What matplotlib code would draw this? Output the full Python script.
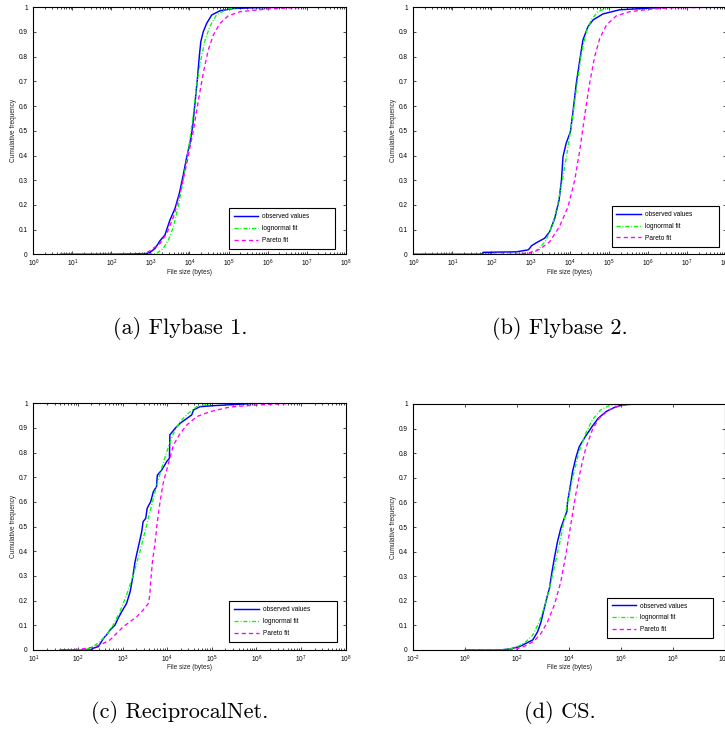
import numpy as np
import matplotlib
matplotlib.use("Agg")
import matplotlib.pyplot as plt
from matplotlib.ticker import LogLocator, FixedLocator, NullLocator, NullFormatter, FixedFormatter

plt.rcParams['font.family'] = ['Liberation Sans', 'DejaVu Sans']
plt.rcParams['mathtext.fontset'] = 'custom'
plt.rcParams['mathtext.rm'] = 'Liberation Sans'
plt.rcParams['mathtext.it'] = 'Liberation Sans:italic'
plt.rcParams['mathtext.bf'] = 'Liberation Sans:bold'
plt.rcParams['lines.scale_dashes'] = False

# ---------------- data (x values are log10 of file size in bytes) ----------------
series_labels = ["observed values", "lognormal fit", "Pareto fit"]
captions = ["(a) Flybase 1.", "(b) Flybase 2.", "(c) ReciprocalNet.", "(d) CS."]
y_ticks = [0, 0.1, 0.2, 0.3, 0.4, 0.5, 0.6, 0.7, 0.8, 0.9, 1]
y_tick_labels = ["0", "0.1", "0.2", "0.3", "0.4", "0.5", "0.6", "0.7", "0.8", "0.9", "1"]

# Panel (a) Flybase 1
a_obs_logx = [0.7, 2.0, 2.9, 2.99, 3.12, 3.245, 3.37, 3.5, 3.63, 3.74, 3.84, 3.93, 4.01, 4.08,
              4.14, 4.2, 4.25, 4.29, 4.35, 4.44, 4.57, 4.78, 5.12, 5.6, 6.4, 7.95]
a_obs_y = [0, 0, 0.003, 0.008, 0.024, 0.055, 0.078, 0.139, 0.186, 0.247, 0.321, 0.395, 0.449, 0.517,
           0.611, 0.706, 0.80, 0.861, 0.90, 0.935, 0.969, 0.986, 0.995, 0.998, 1.0, 1.0]
a_logn_logx = [0.7, 2.9, 3.16, 3.33, 3.46, 3.59, 3.71, 3.84, 3.97, 4.08, 4.18, 4.27, 4.4, 4.52,
               4.69, 4.95, 5.3, 7.95]
a_logn_y = [0, 0, 0.004, 0.024, 0.058, 0.112, 0.193, 0.30, 0.42, 0.544, 0.679, 0.773, 0.868, 0.922,
            0.969, 0.992, 1.0, 1.0]
a_par_logx = [0.7, 2.8, 2.94, 3.07, 3.25, 3.42, 3.59, 3.76, 3.93, 4.1, 4.23, 4.36, 4.48, 4.61,
              4.78, 4.99, 5.29, 5.98, 6.5, 7.0, 7.95]
a_par_y = [0, 0, 0.01, 0.024, 0.045, 0.085, 0.152, 0.247, 0.368, 0.503, 0.625, 0.74, 0.827, 0.888,
           0.935, 0.965, 0.982, 0.993, 0.997, 1.0, 1.0]

# Panel (b) Flybase 2
b_obs_logx = [0, 1.75, 1.79, 2.64, 2.94, 2.98, 3.02, 3.15, 3.36, 3.49, 3.62, 3.73, 3.79, 3.83,
              3.91, 4.02, 4.09, 4.17, 4.26, 4.34, 4.47, 4.6, 4.85, 5.28, 5.96, 6.5, 7.95]
b_obs_y = [0, 0, 0.008, 0.01, 0.018, 0.025, 0.034, 0.047, 0.065, 0.092, 0.146, 0.22, 0.30, 0.395,
           0.449, 0.497, 0.584, 0.692, 0.787, 0.868, 0.922, 0.949, 0.973, 0.99, 0.996, 1.0, 1.0]
b_logn_logx = [0, 2.9, 3.06, 3.23, 3.4, 3.57, 3.7, 3.83, 3.96, 4.09, 4.19, 4.3, 4.43, 4.55,
               4.72, 4.94, 5.1, 7.95]
b_logn_y = [0, 0, 0.004, 0.024, 0.058, 0.125, 0.206, 0.314, 0.436, 0.571, 0.692, 0.814, 0.901, 0.949,
            0.982, 0.997, 1.0, 1.0]
b_par_logx = [0, 2.6, 2.98, 3.23, 3.49, 3.74, 3.96, 4.13, 4.26, 4.38, 4.51, 4.64, 4.77, 4.94,
              5.19, 5.53, 6.04, 6.6, 7.95]
b_par_y = [0, 0, 0.007, 0.02, 0.051, 0.112, 0.193, 0.30, 0.422, 0.557, 0.692, 0.80, 0.874, 0.928,
           0.965, 0.982, 0.992, 0.998, 1.0]

# Panel (c) ReciprocalNet
c_obs_logx = [1.6, 2.3, 2.34, 2.46, 2.57, 2.64, 2.72, 2.83, 2.9, 2.98, 3.09, 3.17, 3.23, 3.28,
              3.33, 3.38, 3.43, 3.46, 3.52, 3.55, 3.63, 3.69, 3.76, 3.78, 3.88, 3.99, 4.05, 4.06,
              4.18, 4.29, 4.39, 4.55, 4.59, 4.73, 5.0, 5.5, 6.0, 7.42]
c_obs_y = [0, 0, 0.007, 0.014, 0.047, 0.061, 0.081, 0.101, 0.128, 0.155, 0.189, 0.236, 0.297, 0.358,
           0.399, 0.439, 0.48, 0.52, 0.534, 0.574, 0.601, 0.642, 0.662, 0.709, 0.73, 0.764, 0.777, 0.872,
           0.899, 0.919, 0.932, 0.953, 0.973, 0.986, 0.99, 0.995, 1.0, 1.0]
c_logn_logx = [1.6, 2.0, 2.19, 2.34, 2.49, 2.64, 2.79, 2.94, 3.09, 3.24, 3.39, 3.54, 3.69, 3.84,
               3.99, 4.14, 4.29, 4.47, 4.66, 5.0, 7.42]
c_logn_y = [0, 0, 0.003, 0.014, 0.034, 0.061, 0.101, 0.155, 0.223, 0.304, 0.399, 0.507, 0.615, 0.716,
            0.804, 0.878, 0.926, 0.959, 0.986, 1.0, 1.0]
c_par_logx = [1.6, 2.05, 2.34, 2.57, 2.72, 2.87, 3.02, 3.17, 3.32, 3.46, 3.58, 3.61, 3.63, 3.67,
              3.73, 3.78, 3.84, 3.91, 3.99, 4.06, 4.14, 4.29, 4.44, 4.66, 4.96, 5.33, 5.48, 6.0,
              6.8, 7.42]
c_par_y = [0, 0.003, 0.011, 0.027, 0.041, 0.068, 0.095, 0.115, 0.135, 0.162, 0.189, 0.223, 0.277, 0.358,
           0.439, 0.52, 0.601, 0.676, 0.73, 0.777, 0.831, 0.878, 0.912, 0.946, 0.966, 0.982, 0.986, 0.993,
           1.0, 1.0]

# Panel (d) CS
d_obs_logx = [0, 1.3, 1.71, 2.09, 2.34, 2.6, 2.79, 2.92, 3.04, 3.17, 3.24, 3.34, 3.43, 3.55,
              3.68, 3.81, 3.91, 3.94, 4.03, 4.13, 4.27, 4.39, 4.62, 4.88, 5.12, 5.42, 5.72, 6.04,
              6.5, 8.75]
d_obs_y = [0, 0, 0.004, 0.014, 0.027, 0.041, 0.075, 0.115, 0.169, 0.224, 0.251, 0.318, 0.373, 0.44,
           0.495, 0.535, 0.562, 0.603, 0.657, 0.725, 0.786, 0.827, 0.867, 0.908, 0.942, 0.969, 0.985, 0.996,
           1.0, 1.0]
d_logn_logx = [0, 1.4, 1.83, 2.09, 2.34, 2.6, 2.85, 3.11, 3.36, 3.62, 3.87, 4.13, 4.38, 4.64,
               4.89, 5.21, 5.53, 6.0, 8.75]
d_logn_y = [0, 0, 0.007, 0.018, 0.034, 0.061, 0.115, 0.196, 0.305, 0.427, 0.562, 0.698, 0.806, 0.881,
            0.935, 0.976, 0.993, 1.0, 1.0]
d_par_logx = [0, 1.5, 1.96, 2.34, 2.66, 2.92, 3.17, 3.43, 3.68, 3.87, 4.06, 4.25, 4.45, 4.64,
              4.89, 5.15, 5.53, 5.91, 6.5, 8.75]
d_par_y = [0, 0, 0.004, 0.018, 0.037, 0.068, 0.115, 0.183, 0.278, 0.386, 0.508, 0.63, 0.738, 0.82,
           0.894, 0.942, 0.976, 0.992, 1.0, 1.0]

# x-axis major tick exponents per panel
a_xexp = [0, 1, 2, 3, 4, 5, 6, 7, 8]
b_xexp = [0, 1, 2, 3, 4, 5, 6, 7, 8]
c_xexp = [1, 2, 3, 4, 5, 6, 7, 8]
d_xexp = [-2, 0, 2, 4, 6, 8, 10]

# ---------------- layout ----------------
W, H = 725, 739
fig = plt.figure(figsize=(W / 100, H / 100), dpi=100)

def axes_px(l, t, r, b):
    return fig.add_axes([l / W, 1 - b / H, (r - l) / W, (b - t) / H])

panels = [
    dict(rect=(33.3, 7.3, 345.7, 254.3), data=[(a_obs_logx, a_obs_y), (a_logn_logx, a_logn_y), (a_par_logx, a_par_y)],
         xexp=a_xexp, minor=True, leg=(0.6255, 0.0215, 0.3405, 0.17), cap=(180, 328)),
    dict(rect=(413.3, 7.3, 726.0, 254.3), data=[(b_obs_logx, b_obs_y), (b_logn_logx, b_logn_y), (b_par_logx, b_par_y)],
         xexp=b_xexp, minor=True, leg=(0.634, 0.031, 0.343, 0.17), cap=(560, 328)),
    dict(rect=(33.3, 403.3, 345.7, 650.0), data=[(c_obs_logx, c_obs_y), (c_logn_logx, c_logn_y), (c_par_logx, c_par_y)],
         xexp=c_xexp, minor=True, leg=(0.6274, 0.0336, 0.3438, 0.17), cap=(180, 713)),
    dict(rect=(413.3, 404.0, 725.0, 650.0), data=[(d_obs_logx, d_obs_y), (d_logn_logx, d_logn_y), (d_par_logx, d_par_y)],
         xexp=d_xexp, minor=False, leg=(0.6205, 0.0476, 0.34, 0.17), cap=(560, 713)),
]

styles = [
    dict(color='#0000FF', lw=1.05, ls='-'),
    dict(color='#00FF00', lw=0.95, ls=(0, (3.0, 1.3, 0.7, 1.3))),
    dict(color='#FF00FF', lw=0.95, ls=(0, (3.0, 2.2))),
]

FS = 4.7
for p, cap_text in zip(panels, captions):
    ax = axes_px(*p['rect'])
    for (lx, yy), st, lab in zip(p['data'], styles, series_labels):
        ax.plot(np.power(10.0, np.asarray(lx, dtype=float)), yy, color=st['color'], lw=st['lw'],
                linestyle=st['ls'], label=lab)
    ax.set_xscale('log')
    ex = p['xexp']
    ax.set_xlim(10.0 ** ex[0], 10.0 ** ex[-1])
    ax.set_ylim(0, 1)
    ax.xaxis.set_major_locator(FixedLocator([10.0 ** e for e in ex]))
    ax.xaxis.set_major_formatter(FixedFormatter([r'$\mathdefault{10^{%d}}$' % e for e in ex]))
    if p['minor']:
        ax.xaxis.set_minor_locator(LogLocator(base=10, subs=np.arange(2, 10), numticks=50))
    else:
        ax.xaxis.set_minor_locator(NullLocator())
    ax.xaxis.set_minor_formatter(NullFormatter())
    ax.yaxis.set_major_locator(FixedLocator(y_ticks))
    ax.yaxis.set_major_formatter(FixedFormatter(y_tick_labels))
    ax.tick_params(which='both', direction='in', top=True, right=True, width=0.5, colors='black')
    ax.tick_params(which='major', length=2.5, labelsize=FS)
    ax.tick_params(axis='x', which='major', pad=2.5)
    ax.tick_params(axis='y', which='major', pad=4)
    ax.tick_params(which='minor', length=1.4)
    for s in ax.spines.values():
        s.set_linewidth(0.8)
        s.set_color('black')
    ax.set_xlabel('File size (bytes)', fontsize=FS, color='#222222')
    ax.set_ylabel('Cumulative frequency', fontsize=FS, color='#222222')
    ax.xaxis.set_label_coords(0.5, -0.058)
    ax.yaxis.set_label_coords(-0.053, 0.5)
    leg = ax.legend(loc='lower left', bbox_to_anchor=p['leg'], mode='expand', fontsize=FS, frameon=True,
                    fancybox=False, framealpha=1, edgecolor='black', handlelength=3.8,
                    handletextpad=0.6, labelspacing=0.75, borderpad=0.75, borderaxespad=0)
    leg.get_frame().set_linewidth(0.8)
    cx, cy = p['cap']
    fig.text(cx / W, 1 - cy / H, cap_text, ha='center', va='center', fontsize=16,
             family=['cmr10', 'DejaVu Serif'])

fig.savefig('out.png', dpi=100)
